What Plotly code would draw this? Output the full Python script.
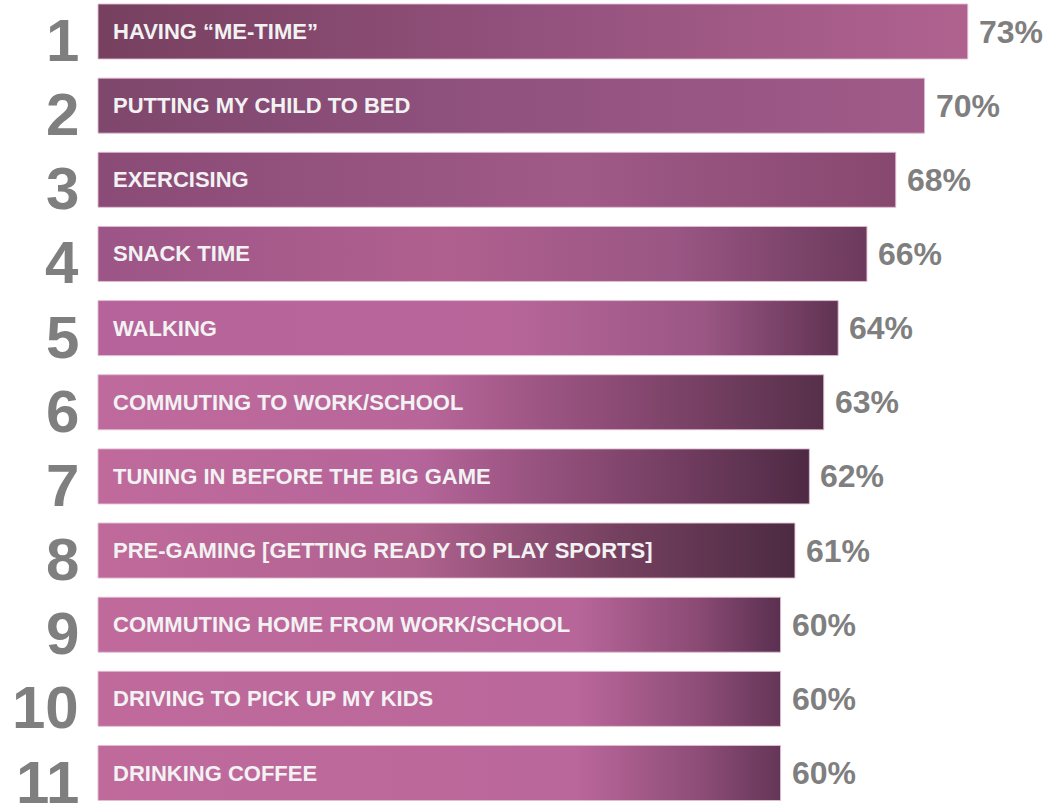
import plotly.graph_objects as go

ranks = ["1", "2", "3", "4", "5", "6", "7", "8", "9", "10", "11"]
activities = [
    "HAVING “ME-TIME”",
    "PUTTING MY CHILD TO BED",
    "EXERCISING",
    "SNACK TIME",
    "WALKING",
    "COMMUTING TO WORK/SCHOOL",
    "TUNING IN BEFORE THE BIG GAME",
    "PRE-GAMING [GETTING READY TO PLAY SPORTS]",
    "COMMUTING HOME FROM WORK/SCHOOL",
    "DRIVING TO PICK UP MY KIDS",
    "DRINKING COFFEE",
]
values = [73, 70, 68, 66, 64, 63, 62, 61, 60, 60, 60]

# gradient styles per bar (left -> right)
gradients = [
    [[0, "#77405f"], [0.5, "#93517d"], [1, "#b0628f"]],
    [[0, "#7f476c"], [0.5, "#915280"], [1, "#a05a88"]],
    [[0, "#8a4b76"], [0.6, "#a05a88"], [1, "#87486f"]],
    [[0, "#9c5587"], [0.45, "#b0608f"], [0.75, "#9a5684"], [1, "#6c3a5c"]],
    [[0, "#b5639a"], [0.55, "#b8669a"], [0.82, "#9a5684"], [1, "#603352"]],
    [[0, "#bf6a9d"], [0.45, "#b8669a"], [0.75, "#85476f"], [1, "#56304a"]],
    [[0, "#c06a9c"], [0.45, "#b6659a"], [0.75, "#7f446b"], [1, "#4e2a44"]],
    [[0, "#c06a9c"], [0.45, "#b0628f"], [0.75, "#74405f"], [1, "#4c2a42"]],
    [[0, "#c06a9c"], [0.7, "#b8669a"], [0.88, "#8a4a74"], [1, "#5a3050"]],
    [[0, "#c06a9c"], [0.7, "#ba679b"], [0.88, "#8e4d78"], [1, "#653658"]],
    [[0, "#c06a9c"], [0.7, "#ba679b"], [0.88, "#8e4d78"], [1, "#653658"]],
]

W, H = 1057, 805
axis_start = 12.6       # value at the bars' left edge (truncated axis)
px_per_unit = 14.4
bar_left_px = 98
pitch = 74.15
first_center = 31.5
half = 0.371
FONT = "Liberation Sans, Arial, sans-serif"

fig = go.Figure()
for i, (v, grad) in enumerate(zip(values, gradients)):
    fig.add_trace(go.Scatter(
        x=[axis_start, v, v, axis_start, axis_start],
        y=[i - half, i - half, i + half, i + half, i - half],
        mode="lines",
        fill="toself",
        line=dict(color="rgba(225,190,210,0.9)", width=1),
        fillgradient=dict(type="horizontal", colorscale=grad, start=axis_start, stop=v),
        hoverinfo="skip",
        showlegend=False,
    ))
    fig.add_annotation(
        x=axis_start, y=i, xref="x", yref="y", text=activities[i], showarrow=False,
        xanchor="left", yanchor="middle", xshift=13,
        font=dict(family=FONT, size=22, color="#f2f2f2", weight="bold"),
    )
    fig.add_annotation(
        x=v, y=i, xref="x", yref="y", text=f"{v}%", showarrow=False,
        xanchor="left", yanchor="middle", xshift=9,
        font=dict(family=FONT, size=32, color="#7f7f7f", weight="bold"),
    )
    fig.add_annotation(
        x=81 / W, y=i, xref="paper", yref="y", text=ranks[i], showarrow=False,
        xanchor="right", yanchor="middle", yshift=-9,
        font=dict(family=FONT, size=60, color="#7f7f7f", weight="bold"),
    )

x0 = axis_start - bar_left_px / px_per_unit
x1 = axis_start + (W - bar_left_px) / px_per_unit
y_top = -first_center / pitch
y_bot = (H - first_center) / pitch

fig.update_layout(
    width=W, height=H,
    margin=dict(l=0, r=0, t=0, b=0),
    paper_bgcolor="white", plot_bgcolor="white",
    xaxis=dict(range=[x0, x1], visible=False, fixedrange=True),
    yaxis=dict(range=[y_bot, y_top], visible=False, fixedrange=True),
)

fig.write_html("out.html")
